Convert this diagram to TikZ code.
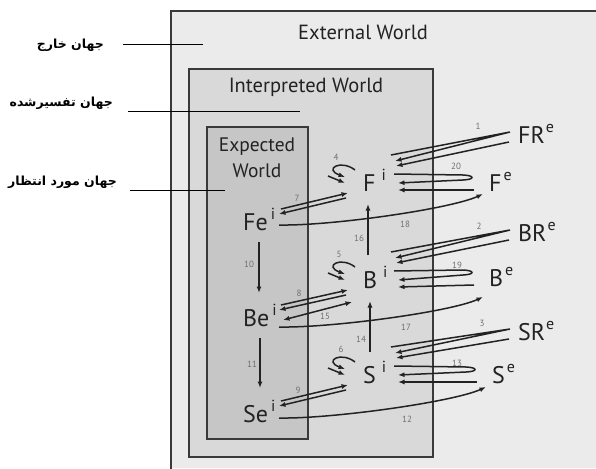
\documentclass[tikz,border=0pt]{standalone}
\usepackage{fontspec}
\setmainfont{PT Sans}
\newfontfamily\farsifont[Script=Arabic]{DejaVu Sans}
\usetikzlibrary{arrows.meta}
\TeXXeTstate=1

\definecolor{outergray}{HTML}{EBEBEB}
\definecolor{interpgray}{HTML}{D9D9D9}
\definecolor{expgray}{HTML}{C6C6C6}
\definecolor{boxline}{HTML}{3A3A3A}
\definecolor{inkgray}{HTML}{222222}
\definecolor{numgray}{HTML}{707070}

% raised index letter after a symbol
\newcommand{\upidx}[2][2pt]{\kern#1\raisebox{11pt}{\fontsize{16}{16}\selectfont #2}}

\tikzset{
  world/.style={draw=boxline, line width=1.4pt},
  sym/.style={inner sep=0pt, anchor=base west, text=inkgray, font=\fontsize{24}{24}\selectfont},
  title/.style={inner sep=0pt, text=inkgray, font=\fontsize{20.5}{26}\selectfont},
  num/.style={inner sep=0pt, text=numgray, font=\fontsize{9}{9}\selectfont},
  farsi/.style={inner sep=0pt, anchor=east, font=\farsifont\bfseries\fontsize{12.5}{12.5}\selectfont},
  pointer/.style={line width=0.9pt},
  flow/.style={line width=1.5pt, draw=inkgray, -{Latex[length=6.5pt,width=5pt]}},
  twoway/.style={line width=1.5pt, draw=inkgray, {Latex[length=6.5pt,width=5pt]}-{Latex[length=6.5pt,width=5pt]}},
}

\begin{document}
\begin{tikzpicture}[x=1pt, y=-1pt]
  \useasboundingbox (0,0) rectangle (596,468);
  % External world, running off the page.
  \fill[outergray] (171,11) rectangle (596,468);
  \draw[boxline, line width=1.4pt] (597,11) -- (171,11) -- (171,469);
  \node[title] (extw) at (363,32) {External World};
  % Interpreted world.
  \filldraw[world, fill=interpgray] (189,69) rectangle (433,457);
  \node[title] (intw) at (306,87) {Interpreted World};
  % Expected world.
  \filldraw[world, fill=expgray] (207,127) rectangle (308,439);
  \node[title, align=center, font=\fontsize{19.5}{26}\selectfont] (expw) at (257,158) {Expected\\World};

  % Persian captions on the left.
  \node[farsi] (farext) at (104,45) {\beginR جهان خارج\endR};
  \node[farsi] (farint) at (113,103) {\beginR جهان تفسیرشده\endR};
  \node[farsi] (farexp) at (117,182) {\beginR جهان مورد انتظار\endR};
  \coordinate (extpt) at (203,44);
  \coordinate (intpt) at (300,111);
  \coordinate (exppt) at (225,190);
  \draw[pointer] ([shift={(19,-1)}]farext.east) -- (extpt);
  \draw[pointer] ([shift={(15,8)}]farint.east) -- (intpt);
  \draw[pointer] ([shift={(13,8)}]farexp.east) -- (exppt);

  % Symbols.
  \node[sym] (Fexp) at (243,230) {Fe\upidx[3pt]{i}};
  \node[sym] (Bexp) at (243,326) {Be\upidx[3pt]{i}};
  \node[sym] (Sexp) at (243,422) {Se\upidx[3pt]{i}};
  \node[sym] (Fint) at (363,191) {F\upidx[6pt]{i}};
  \node[sym] (Bint) at (363,288) {B\upidx[6pt]{i}};
  \node[sym] (Sint) at (363,383) {S\upidx[6pt]{i}};
  \node[sym] (FRext) at (518,143) {FR\upidx[1pt]{e}};
  \node[sym] (BRext) at (518,241) {BR\upidx[1pt]{e}};
  \node[sym] (SRext) at (518,340) {SR\upidx[1pt]{e}};
  \node[sym] (Fext) at (489,191) {F\upidx[2pt]{e}};
  \node[sym] (Bext) at (489,286) {B\upidx[2pt]{e}};
  \node[sym] (Sext) at (492,383) {S\upidx[2pt]{e}};

  % Same set of links on every row.
  \foreach \w/\cs/\ce in {F/-5/3, B/1/11, S/-4/4} {
    \draw[flow] ([shift={(28,-36)}]\w int.base west) -- ([shift={(-8,-11)}]\w Rext.base west) -- ([shift={(32,-30)}]\w int.base west);
    \draw[flow] ([shift={(-9,-1)}]\w Rext.base west) -- ([shift={(33,-25)}]\w int.base west);
    \draw[flow] ([shift={(31,-17)}]\w int.base west) -- ([shift={(-26,-16)}]\w ext.base west)
      .. controls +(12,0.5) and +(12,-0.5) .. ([shift={(-26,-11)}]\w ext.base west) -- ([shift={(35,-8)}]\w int.base west);
    \draw[flow] ([shift={(-15,-1)}]\w ext.base west) -- ([shift={(35,-1)}]\w int.base west);
    \draw[flow] ([shift={(36,\cs)}]\w exp.base west) .. controls +(52,1) and +(-33,15) .. ([shift={(-6,\ce)}]\w ext.base west);
    \draw[flow] ([shift={(-8,-21)}]\w int.base west) .. controls +(-14,-11) and +(-22,-8) .. ([shift={(-18,-14)}]\w int.base west);
    \draw[flow] ([shift={(-35,-15)}]\w int.base west) -- ([shift={(-18,-8)}]\w int.base west);
    \draw[flow] ([shift={(38,-21)}]\w exp.base west) -- ([shift={(-15,2)}]\w int.base west);
    \draw[flow] ([shift={(-17,7)}]\w int.base west) -- ([shift={(36,-16)}]\w exp.base west);
  }
  \draw[twoway] ([shift={(-11,14)}]Bint.base west) -- ([shift={(40,-6)}]Bexp.base west);
  % Vertical links.
  \draw[flow] ([shift={(16,12)}]Fexp.base west) -- ([shift={(16,-33)}]Bexp.base west);
  \draw[flow] ([shift={(17,12)}]Bexp.base west) -- ([shift={(17,-34)}]Sexp.base west);
  \draw[flow] ([shift={(5,-33)}]Bint.base west) -- ([shift={(5,13)}]Fint.base west);
  \draw[flow] ([shift={(7,-31)}]Sint.base west) -- ([shift={(7,13)}]Bint.base west);

  % Link numbers.
  \foreach \t/\x/\y in {1/478/126, 2/479/226, 3/482/323, 4/336/157, 5/339/254, 6/341/349,
      7/297/198, 8/299/293, 9/298/390, 10/249/264, 11/252/364, 12/407/419, 13/457/363,
      14/361/339, 15/325/316, 16/359/238, 17/406/327, 18/405/224, 19/457/265, 20/456/166}
    \node[num] (n\t) at (\x,\y) {\t};
\end{tikzpicture}
\end{document}
